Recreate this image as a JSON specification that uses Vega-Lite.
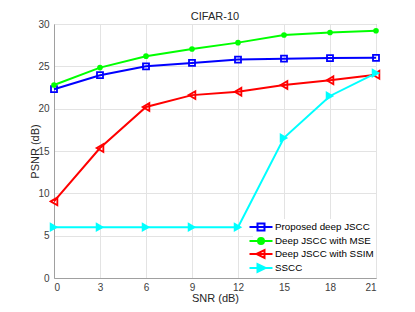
{
  "$schema": "https://vega.github.io/schema/vega-lite/v6.json",
  "width": 322,
  "height": 254,
  "autosize": {"type": "none"},
  "padding": {"left": 54, "top": 24, "right": 39, "bottom": 34},
  "background": "white",
  "title": {"text": "CIFAR-10", "fontSize": 11, "font": "Liberation Sans", "fontWeight": "normal", "color": "#262626", "offset": -3, "anchor": "middle"},
  "config": {
    "font": "Liberation Sans",
    "view": {"stroke": "#a0a0a0", "strokeWidth": 1},
    "axis": {
      "labelFont": "Liberation Sans", "labelFontSize": 10, "labelColor": "#404040",
      "titleFont": "Liberation Sans", "titleFontSize": 11, "titleFontWeight": "normal", "titleColor": "#262626",
      "domainColor": "#a0a0a0", "tickColor": "#a0a0a0", "gridColor": "#e3e3e3", "gridOpacity": 1
    }
  },
  "data": {"values": [
    {"snr": 0, "psnr": 22.3, "series": "Proposed deep JSCC"},
    {"snr": 3, "psnr": 23.95, "series": "Proposed deep JSCC"},
    {"snr": 6, "psnr": 25.0, "series": "Proposed deep JSCC"},
    {"snr": 9, "psnr": 25.4, "series": "Proposed deep JSCC"},
    {"snr": 12, "psnr": 25.8, "series": "Proposed deep JSCC"},
    {"snr": 15, "psnr": 25.9, "series": "Proposed deep JSCC"},
    {"snr": 18, "psnr": 25.97, "series": "Proposed deep JSCC"},
    {"snr": 21, "psnr": 26.0, "series": "Proposed deep JSCC"},
    {"snr": 0, "psnr": 22.8, "series": "Deep JSCC with MSE"},
    {"snr": 3, "psnr": 24.85, "series": "Deep JSCC with MSE"},
    {"snr": 6, "psnr": 26.2, "series": "Deep JSCC with MSE"},
    {"snr": 9, "psnr": 27.05, "series": "Deep JSCC with MSE"},
    {"snr": 12, "psnr": 27.8, "series": "Deep JSCC with MSE"},
    {"snr": 15, "psnr": 28.7, "series": "Deep JSCC with MSE"},
    {"snr": 18, "psnr": 29.0, "series": "Deep JSCC with MSE"},
    {"snr": 21, "psnr": 29.2, "series": "Deep JSCC with MSE"},
    {"snr": 0, "psnr": 9.05, "series": "Deep JSCC with SSIM"},
    {"snr": 3, "psnr": 15.35, "series": "Deep JSCC with SSIM"},
    {"snr": 6, "psnr": 20.2, "series": "Deep JSCC with SSIM"},
    {"snr": 9, "psnr": 21.6, "series": "Deep JSCC with SSIM"},
    {"snr": 12, "psnr": 22.0, "series": "Deep JSCC with SSIM"},
    {"snr": 15, "psnr": 22.8, "series": "Deep JSCC with SSIM"},
    {"snr": 18, "psnr": 23.35, "series": "Deep JSCC with SSIM"},
    {"snr": 21, "psnr": 24.0, "series": "Deep JSCC with SSIM"},
    {"snr": 0, "psnr": 6.0, "series": "SSCC"},
    {"snr": 3, "psnr": 6.0, "series": "SSCC"},
    {"snr": 6, "psnr": 6.0, "series": "SSCC"},
    {"snr": 9, "psnr": 6.0, "series": "SSCC"},
    {"snr": 12, "psnr": 6.0, "series": "SSCC"},
    {"snr": 15, "psnr": 16.55, "series": "SSCC"},
    {"snr": 18, "psnr": 21.5, "series": "SSCC"},
    {"snr": 21, "psnr": 24.2, "series": "SSCC"}
  ]},
  "encoding": {
    "x": {"field": "snr", "type": "quantitative", "scale": {"domain": [0, 21], "nice": false},
      "axis": {"title": "SNR (dB)", "values": [0, 3, 6, 9, 12, 15, 18, 21], "tickSize": 0, "labelPadding": 4, "titlePadding": 0, "grid": true}},
    "y": {"field": "psnr", "type": "quantitative", "scale": {"domain": [0, 30], "nice": false},
      "axis": {"title": "PSNR (dB)", "values": [0, 5, 10, 15, 20, 25, 30], "tickSize": 0, "labelPadding": 5, "titlePadding": -3, "grid": true}},
    "color": {"field": "series", "type": "nominal",
      "scale": {"domain": ["Proposed deep JSCC", "Deep JSCC with MSE", "Deep JSCC with SSIM", "SSCC"], "range": ["#0000ff", "#00ff00", "#ff0000", "#00ffff"]},
      "legend": {
        "title": null, "orient": "bottom-right", "offset": 0, "fillColor": "white", "padding": 2,
        "labelFont": "Liberation Sans", "labelFontSize": 9.8, "labelColor": "#000000", "labelOffset": 8,
        "symbolSize": 100, "rowPadding": -5, "labelLimit": 200,
        "encode": {"symbols": {"update": {
          "shape": {"signal": "datum.value == 'Proposed deep JSCC' ? 'M-2.3,0H2.3M-0.7,-0.7H0.7V0.7H-0.7Z' : datum.value == 'Deep JSCC with MSE' ? 'M-2.3,0H2.3M0.6,0A0.6,0.6,0,1,1,-0.6,0A0.6,0.6,0,1,1,0.6,0Z' : datum.value == 'Deep JSCC with SSIM' ? 'M-2.3,0H2.3M-0.9,0L0.7,-0.8L0.7,0.8Z' : 'M-2.3,0H2.3M0.9,0L-0.7,-0.8L-0.7,0.8Z'"},
          "fill": {"signal": "scale('color', datum.value)"},
          "fillOpacity": {"signal": "datum.value == 'Deep JSCC with MSE' || datum.value == 'SSCC' ? 1 : 0"},
          "stroke": {"signal": "scale('color', datum.value)"},
          "strokeWidth": {"value": 2},
          "opacity": {"value": 1}
        }}}
      }}
  },
  "layer": [
    {"mark": {"type": "line", "strokeWidth": 2}},
    {"transform": [{"filter": "datum.series == 'Proposed deep JSCC'"}],
     "mark": {"type": "point", "shape": "square", "filled": false, "strokeWidth": 1.8, "opacity": 1, "size": 36}},
    {"transform": [{"filter": "datum.series == 'Deep JSCC with MSE'"}],
     "mark": {"type": "point", "shape": "circle", "filled": true, "opacity": 1, "size": 32}},
    {"transform": [{"filter": "datum.series == 'Deep JSCC with SSIM'"}],
     "mark": {"type": "point", "shape": "triangle-left", "filled": false, "strokeWidth": 1.8, "opacity": 1, "size": 60}},
    {"transform": [{"filter": "datum.series == 'SSCC'"}],
     "mark": {"type": "point", "shape": "triangle-right", "filled": true, "opacity": 1, "size": 95}}
  ]
}
